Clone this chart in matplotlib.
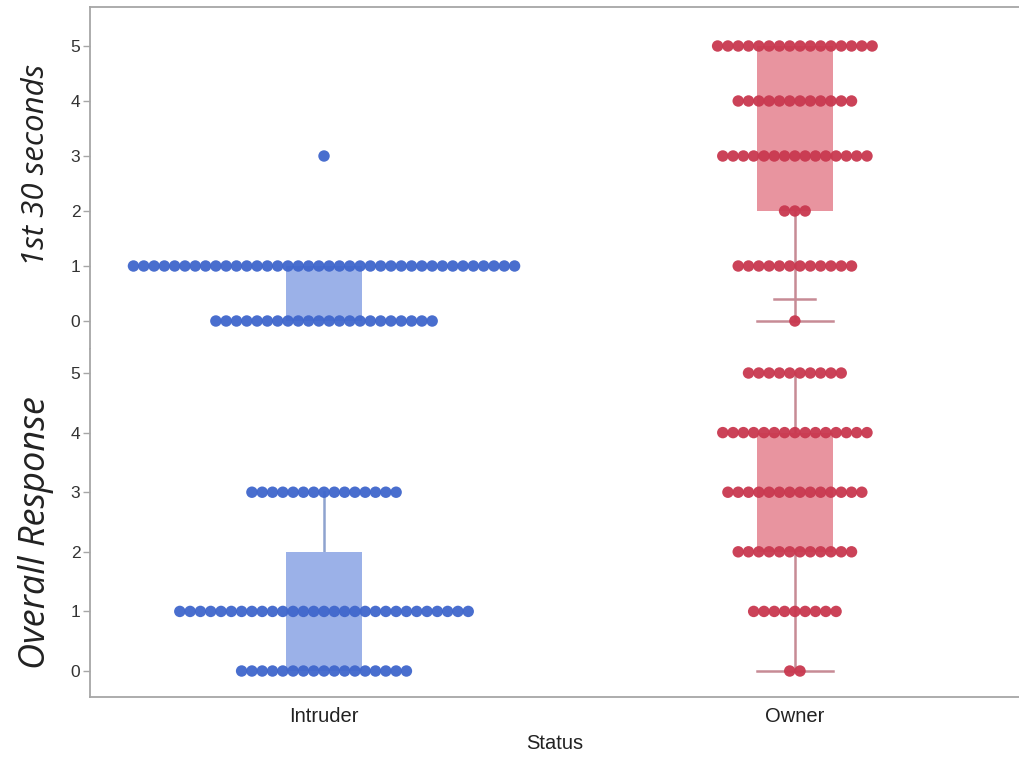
import numpy as np
import matplotlib
matplotlib.use('Agg')
import matplotlib.pyplot as plt
from matplotlib.patches import Rectangle

levels = [0, 1, 2, 3, 4, 5]
groups = ['Intruder', 'Owner']

first30_intruder = [22, 38, 0, 1, 0, 0]
first30_owner = [1, 12, 3, 15, 12, 16]
overall_intruder = [17, 29, 0, 15, 0, 0]
overall_owner = [2, 9, 12, 14, 15, 10]

# box stats: q1, q3, whisker low, whisker high
first30_box = {'Intruder': (0, 1, 0, 1), 'Owner': (2, 5, 0, 5)}
overall_box = {'Intruder': (0, 2, 0, 3), 'Owner': (2, 4, 0, 5)}
# short extra line on the owner box in the top panel
first30_extra = {'Owner': 0.4}

dot_col = {'Intruder': '#3f66cc', 'Owner': '#c9384f'}
box_col = {'Intruder': '#9bb1e8', 'Owner': '#e8949f'}
wsk_col = {'Intruder': '#8ea3cf', 'Owner': '#c78b95'}
spine_col = '#a6a6a6'

W, H = 1019, 759
fig = plt.figure(figsize=(W / 100, H / 100), dpi=100)
ax_top = fig.add_axes([90 / W, 1 - 349 / H, 1 - 90 / W, 342 / H])
ax_bot = fig.add_axes([90 / W, 1 - 697 / H, 1 - 90 / W, 348 / H])

xlim = (-0.497, 1.476)
px = (xlim[1] - xlim[0]) / (W - 90)   # data units per pixel
step = 10.3 * px
bw = 76 * px


def panel(ax, counts, box, extra, ylim):
    for gi, g in enumerate(groups):
        q1, q3, lo, hi = box[g]
        # whiskers
        if hi > q3:
            ax.plot([gi, gi], [q3, hi], color=wsk_col[g], lw=1.8, zorder=1)
        if lo < q1:
            ax.plot([gi, gi], [lo, q1], color=wsk_col[g], lw=1.8, zorder=1)
            ax.plot([gi - bw / 2, gi + bw / 2], [lo, lo], color=wsk_col[g], lw=1.8, zorder=1)
        if g in extra:
            ax.plot([gi - bw * 0.27, gi + bw * 0.27], [extra[g]] * 2, color=wsk_col[g], lw=1.8, zorder=1)
        ax.add_patch(Rectangle((gi - bw / 2, q1), bw, q3 - q1, facecolor=box_col[g],
                               edgecolor='none', zorder=2))
        for lv, n in zip(levels, counts[g]):
            if n == 0:
                continue
            xs = gi + (np.arange(n) - (n - 1) / 2) * step
            ax.scatter(xs, np.full(n, lv), s=68, color=dot_col[g], edgecolors='none',
                       alpha=0.95, zorder=3)
    ax.set_xlim(*xlim)
    ax.set_ylim(*ylim)
    ax.set_yticks(levels)
    ax.spines['right'].set_visible(False)
    for s in ax.spines.values():
        s.set_color(spine_col)
        s.set_linewidth(1.3)
    ax.tick_params(axis='y', length=5, width=1, color=spine_col, labelsize=12.5,
                   labelcolor='#333333', pad=2)
    for lab in ax.get_yticklabels():
        lab.set_fontfamily('Liberation Sans')


panel(ax_top, {'Intruder': first30_intruder, 'Owner': first30_owner},
      first30_box, first30_extra, (-0.509, 5.709))
panel(ax_bot, {'Intruder': overall_intruder, 'Owner': overall_owner},
      overall_box, {}, (-0.436, 5.403))

ax_top.spines['bottom'].set_visible(False)
ax_bot.spines['top'].set_visible(False)
ax_top.set_xticks([])

ax_bot.set_xticks([0, 1])
ax_bot.set_xticklabels(groups, fontsize=14.5, color='#222222', fontfamily='Liberation Sans')
ax_bot.tick_params(axis='x', length=0, pad=7)
ax_bot.set_xlabel('Status', fontsize=14.5, color='#222222', fontfamily='Liberation Sans', labelpad=6)

fig.text(36 / W, 1 - 165 / H, '1st 30 seconds', rotation=90, ha='center', va='center',
         fontsize=22.5, style='italic', family='Open Sans', color='#222222')
fig.text(36 / W, 1 - 533 / H, 'Overall Response', rotation=90, ha='center', va='center',
         fontsize=26, style='italic', family='Open Sans', color='#222222')

fig.savefig('out.png', dpi=100, facecolor='white')
